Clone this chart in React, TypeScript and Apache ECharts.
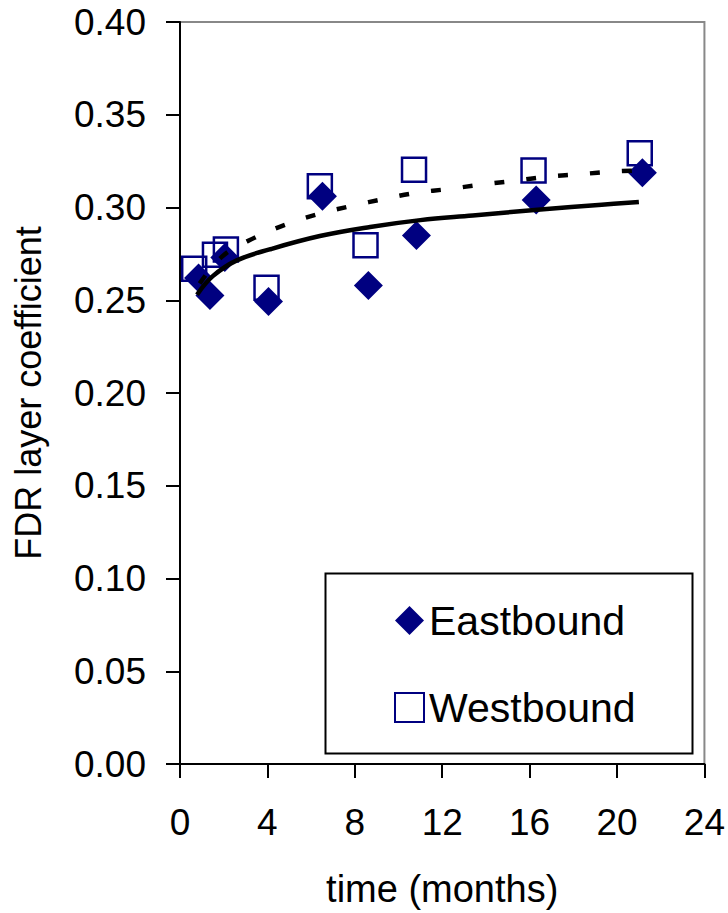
import React, { useEffect, useRef } from "react";
import * as echarts from "echarts";

const xTicks = [0, 4, 8, 12, 16, 20, 24];
const yTicks = [0, 0.05, 0.1, 0.15, 0.2, 0.25, 0.3, 0.35, 0.4];

const eastbound: [number, number][] = [
  [0.85, 0.262], [1.37, 0.2525], [2.05, 0.273], [4.05, 0.2493], [6.52, 0.3061],
  [8.62, 0.258], [10.82, 0.2849], [16.3, 0.304], [21.16, 0.3188],
];
const westbound: [number, number][] = [
  [0.65, 0.267], [1.6, 0.2745], [2.1, 0.2774], [3.96, 0.2567], [6.4, 0.3115],
  [8.49, 0.2796], [10.71, 0.3204], [16.18, 0.32], [21.04, 0.3293],
];
const eastFit: [number, number][] = [
  [0.78, 0.253], [1.5, 0.263], [2.6, 0.2715], [4.1, 0.2774], [6.4, 0.2846],
  [8.7, 0.2895], [11, 0.2932], [13.4, 0.2957], [16.5, 0.2989], [19.3, 0.3015], [21, 0.303],
];
const westFit: [number, number][] = [
  [0.9, 0.259], [1.97, 0.274], [3.47, 0.284], [4.98, 0.2914], [6.43, 0.2968],
  [7.9, 0.301], [9.37, 0.3047], [10.85, 0.308], [12.3, 0.31], [13.9, 0.3125],
  [15.35, 0.3145], [16.9, 0.3167], [18.35, 0.318], [19.85, 0.3194], [21, 0.32],
];

const NAVY = "#000080";
const FONT = "Liberation Sans, Arial, sans-serif";

export default function App() {
  const ref = useRef<HTMLDivElement>(null);
  useEffect(() => {
    if (!ref.current) return;
    const chart = echarts.init(ref.current, null, { renderer: "svg" });
    chart.setOption({
      animation: false,
      backgroundColor: "#ffffff",
      grid: {
        left: 180, right: 23, top: 22, bottom: 147,
        show: true, borderColor: "#888888", borderWidth: 2, backgroundColor: "transparent",
      },
      xAxis: {
        type: "value", min: xTicks[0], max: xTicks[xTicks.length - 1], interval: 4,
        name: "time (months)", nameLocation: "middle", nameGap: 106,
        nameTextStyle: { fontSize: 38, fontFamily: FONT, color: "#000" },
        axisLine: { show: true, onZero: false, lineStyle: { color: "#000", width: 2 } },
        axisTick: { show: true, inside: false, length: 14, lineStyle: { color: "#000", width: 2 } },
        axisLabel: { fontSize: 37, fontFamily: FONT, color: "#000", margin: 40 },
        splitLine: { show: false },
      },
      yAxis: {
        type: "value", min: yTicks[0], max: yTicks[yTicks.length - 1], interval: 0.05,
        name: "FDR layer coefficient", nameLocation: "middle", nameGap: 134,
        nameTextStyle: { fontSize: 36, fontFamily: FONT, color: "#000" },
        axisLine: { show: true, onZero: false, lineStyle: { color: "#000", width: 2 } },
        axisTick: { show: true, inside: false, length: 14, lineStyle: { color: "#000", width: 2 } },
        axisLabel: {
          fontSize: 37, fontFamily: FONT, color: "#000", margin: 34,
          formatter: (v: number) => v.toFixed(2),
        },
        splitLine: { show: false },
      },
      legend: {
        orient: "vertical", left: 389, top: 595, itemWidth: 29, itemHeight: 29, itemGap: 46,
        textStyle: { fontSize: 41, fontFamily: FONT, color: "#000", lineHeight: 41 },
        data: [
          { name: "Eastbound", icon: "diamond", itemStyle: { color: NAVY, opacity: 1 } },
          { name: "Westbound", icon: "rect", itemStyle: { color: "#fff", borderColor: NAVY, borderWidth: 2, opacity: 1 } },
        ],
      },
      graphic: [
        {
          type: "rect", left: 323, top: 571,
          shape: { width: 367, height: 180 },
          style: { fill: "none", stroke: "#000", lineWidth: 2 },
          z: -1,
        },
      ],
      series: [
        {
          name: "Westbound", type: "scatter", data: westbound, symbol: "rect", symbolSize: 24,
          itemStyle: { color: "rgba(255,255,255,0)", borderColor: NAVY, borderWidth: 2.5, opacity: 1 },
          z: 2,
        },
        {
          name: "Eastbound", type: "scatter", data: eastbound, symbol: "diamond", symbolSize: 29,
          itemStyle: { color: NAVY, opacity: 1 },
          z: 3,
        },
        {
          name: "East fit", type: "line", data: eastFit, smooth: 0.4, showSymbol: false,
          lineStyle: { color: "#000", width: 4.5 }, z: 4,
        },
        {
          name: "West fit", type: "line", data: westFit, smooth: 0.4, showSymbol: false,
          lineStyle: { color: "#000", width: 4.5, type: [10, 22] }, z: 4,
        },
      ],
    });
    return () => chart.dispose();
  }, []);
  return (
    <div
      ref={ref}
      style={{ position: "fixed", left: 0, top: 0, width: 728, height: 913, background: "#fff" }}
    />
  );
}
